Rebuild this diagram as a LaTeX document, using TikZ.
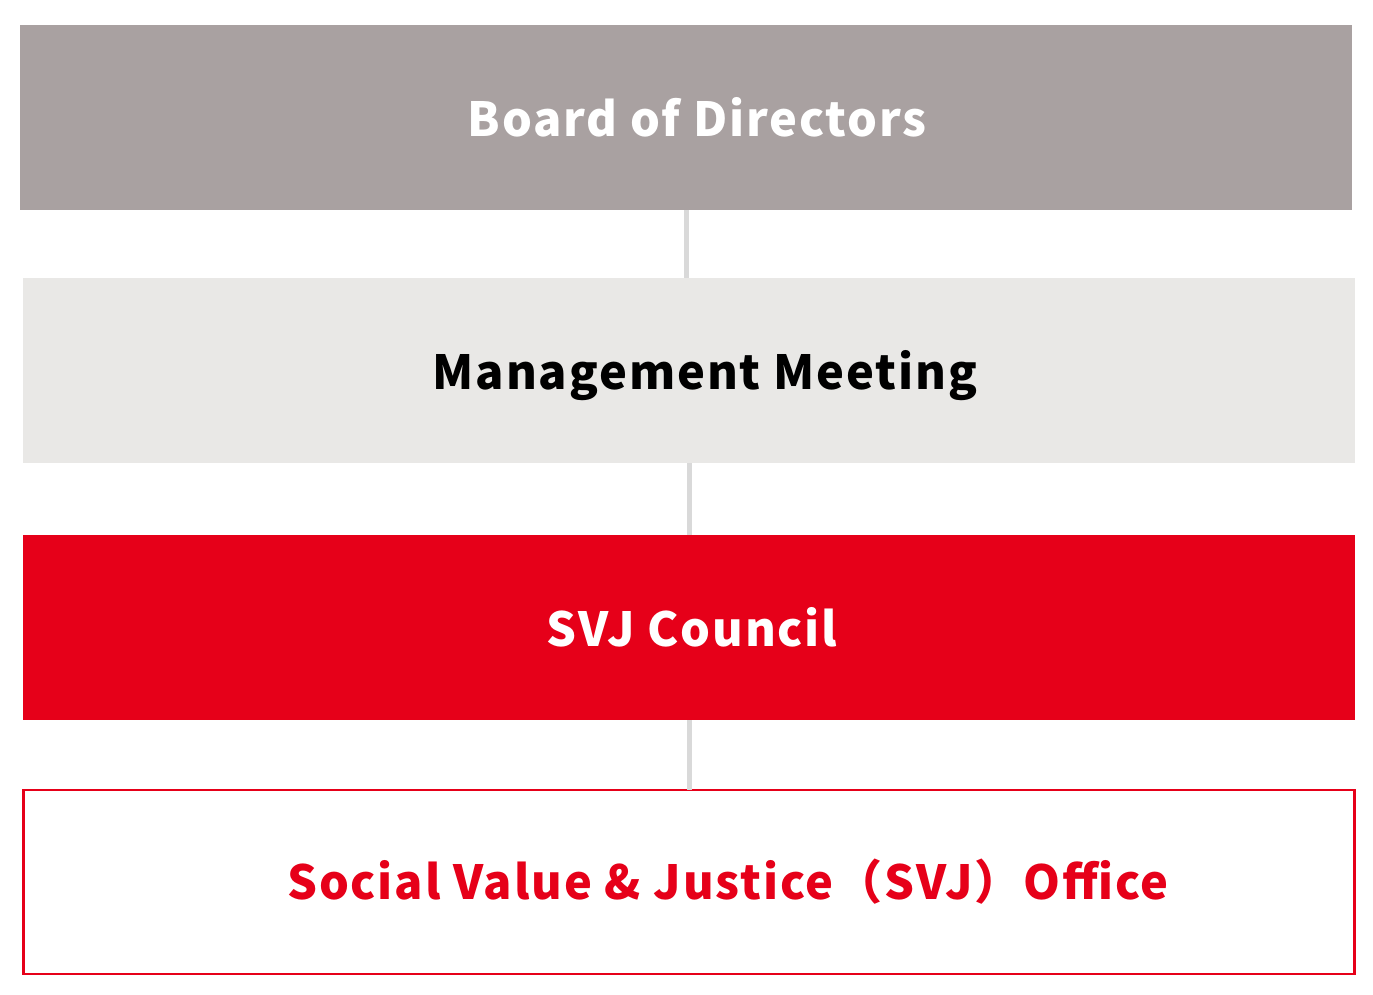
\documentclass[tikz,border=0pt]{standalone}
\usepackage{fontspec}
\setmainfont{Noto Sans CJK JP}[LetterSpace=4]
\usepackage{tikz}
\usetikzlibrary{positioning}
\definecolor{boardgrey}{HTML}{A9A1A1}
\definecolor{mgmtgrey}{HTML}{E9E8E6}
\definecolor{svjred}{HTML}{E60019}
\definecolor{linkgrey}{HTML}{D9D9D9}

\begin{document}
\begin{tikzpicture}[
  x=1pt, y=1pt,
  node distance=70pt and 0pt,
  mybox/.style={rectangle,minimum width=1332pt,minimum height=185pt,inner sep=0pt,outer sep=0pt},
  mylabel/.style={inner sep=0pt,font=\fontsize{47}{50}\selectfont\bfseries},
  link/.style={draw=linkgrey,line width=5pt}
]
\useasboundingbox (0,0) rectangle (1373,-995);

\node[mybox,fill=boardgrey] (board) at (686,-117.5) {};
\node[mybox,fill=mgmtgrey, below=68pt of board, xshift=3pt] (mgmt) {};
\node[mybox,fill=svjred, below=72pt of mgmt] (svj) {};
\node[mybox,draw=svjred,line width=2.5pt,fill=white, below=70pt of svj, minimum width=1331pt, minimum height=184pt] (office) {};

\node[mylabel,text=white] at ([xshift=11pt]board.center) (boardtxt) {Board of Directors};
\node[mylabel,text=black] at ([xshift=16pt,yshift=-5pt]mgmt.center) (mgmttxt) {Management Meeting};
\node[mylabel,text=white] at ([xshift=3pt]svj.center) (svjtxt) {SVJ Council};
\node[mylabel,text=svjred] at ([xshift=39pt]office.center) (officetxt) {Social Value \& Justice（SVJ）Office};

\path (board.south) edge[link] (board.south |- mgmt.north)
(mgmt.south) edge[link] (mgmt.south |- svj.north)
(svj.south) edge[link] (svj.south |- office.north);
\end{tikzpicture}
\end{document}
